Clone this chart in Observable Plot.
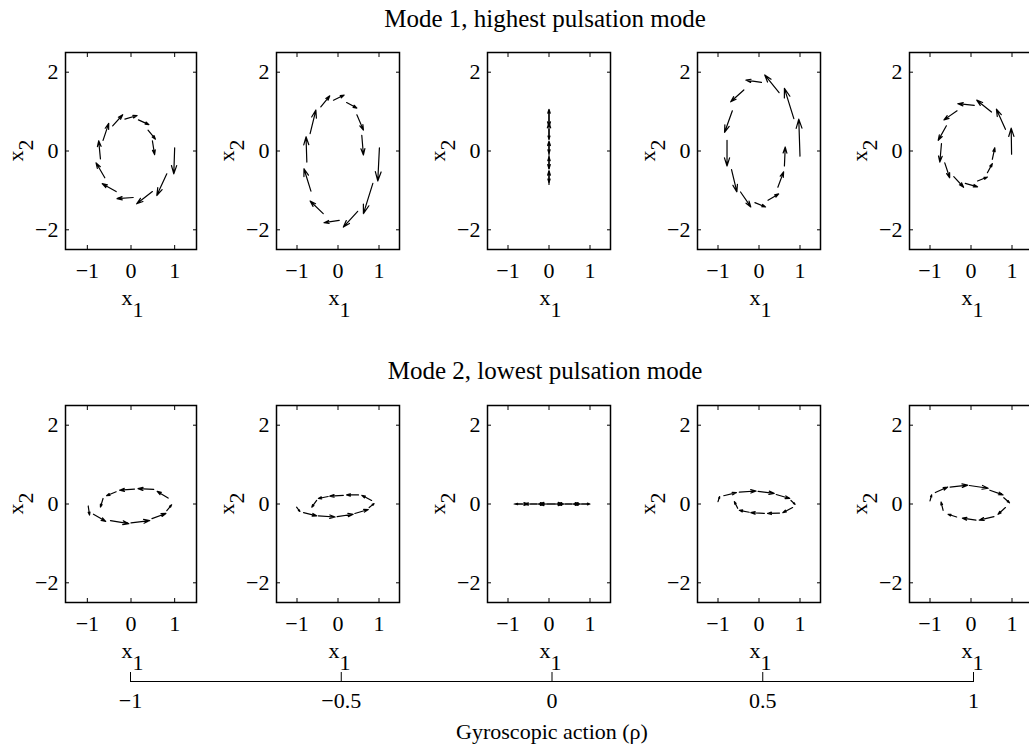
<!DOCTYPE html>
<html><head><meta charset="utf-8">
<script src="https://cdn.jsdelivr.net/npm/d3@7"></script>
<script src="https://cdn.jsdelivr.net/npm/@observablehq/plot@0.6"></script>
<style>
html,body{margin:0;padding:0;background:#fff;overflow:hidden;}
#fig{position:relative;width:1029px;height:751px;overflow:hidden;font-family:"Liberation Serif","Times New Roman",serif;color:#000;background:#fff;}
#fig > svg{position:absolute;overflow:visible;}
.ttl{position:absolute;font-size:25px;line-height:25px;white-space:nowrap;transform:translateX(-50%);}
</style></head><body><div id="fig"></div>
<script>
// ---- data: arrows as [x1 (tail), y1 (tail), x2 (head), y2 (head)] in state coordinates ----
const rhoValues = [-1, -0.5, 0, 0.5, 1];
const rhoTicks = [-1, -0.5, 0, 0.5, 1];
const xTicks = [-1, 0, 1];
const yTicks = [-2, 0, 2];
const titleMode1 = "Mode 1, highest pulsation mode";
const titleMode2 = "Mode 2, lowest pulsation mode";
const rhoLabel = "Gyroscopic action (ρ)";

const mode1_rhoNeg1 = [
  [1.00, 0.08, 0.98, -0.58], [0.82, -0.58, 0.59, -1.13], [0.49, -1.03, 0.13, -1.34],
  [0.05, -1.18, -0.32, -1.21], [-0.34, -1.03, -0.66, -0.83], [-0.60, -0.68, -0.80, -0.30],
  [-0.70, -0.20, -0.74, 0.26], [-0.64, 0.27, -0.51, 0.70], [-0.42, 0.64, -0.19, 0.92],
  [-0.14, 0.81, 0.14, 0.90], [0.17, 0.79, 0.41, 0.67], [0.39, 0.53, 0.56, 0.30],
  [0.49, 0.26, 0.54, -0.09]
];
const mode1_rhoNeg05 = [
  [1.01, 0.08, 0.97, -0.76], [0.85, -0.82, 0.62, -1.59], [0.48, -1.53, 0.13, -1.93],
  [0.03, -1.76, -0.34, -1.82], [-0.36, -1.59, -0.68, -1.27], [-0.66, -1.02, -0.83, -0.45],
  [-0.76, -0.28, -0.78, 0.36], [-0.68, 0.44, -0.54, 1.04], [-0.42, 1.12, -0.20, 1.40],
  [-0.11, 1.29, 0.15, 1.42], [0.21, 1.23, 0.46, 1.09], [0.46, 0.92, 0.62, 0.53],
  [0.58, 0.40, 0.62, -0.10]
];
const mode1_rho0 = [
  [0, -0.85, 0, -0.50], [0, -0.45, 0, -0.15], [0, -0.10, 0, 0.25], [0, 0.30, 0, 0.72],
  [0, 0.75, 0, 1.06], [0, 1.00, 0, 0.62], [0, 0.55, 0, 0.30], [0, 0.22, 0, -0.06],
  [0, -0.12, 0, -0.45], [0, -0.52, 0, -0.80]
];
const mode1_rhoPos05 = [
  [1.00, -0.13, 0.97, 0.81], [0.85, 0.82, 0.62, 1.59], [0.49, 1.48, 0.14, 1.93],
  [0.06, 1.74, -0.32, 1.80], [-0.37, 1.55, -0.69, 1.25], [-0.65, 1.02, -0.84, 0.47],
  [-0.78, 0.27, -0.78, -0.38], [-0.67, -0.47, -0.54, -1.04], [-0.45, -1.04, -0.20, -1.42],
  [-0.10, -1.31, 0.16, -1.42], [0.22, -1.25, 0.48, -1.09], [0.46, -0.92, 0.60, -0.53],
  [0.62, -0.38, 0.64, 0.10]
];
const mode1_rhoPos1 = [
  [0.99, -0.08, 0.98, 0.58], [0.84, 0.55, 0.62, 1.06], [0.50, 0.99, 0.14, 1.29],
  [0.08, 1.16, -0.32, 1.20], [-0.34, 1.02, -0.66, 0.79], [-0.60, 0.64, -0.80, 0.27],
  [-0.72, 0.19, -0.76, -0.28], [-0.64, -0.30, -0.52, -0.68], [-0.42, -0.65, -0.18, -0.92],
  [-0.14, -0.82, 0.16, -0.91], [0.16, -0.76, 0.40, -0.66], [0.40, -0.55, 0.52, -0.32],
  [0.52, -0.21, 0.58, 0.08]
];
const mode2_rhoNeg1 = [
  [-0.98, -0.05, -0.95, -0.28], [-0.86, -0.26, -0.58, -0.44], [-0.47, -0.42, -0.05, -0.50],
  [0.00, -0.48, 0.43, -0.42], [0.48, -0.37, 0.80, -0.24], [0.82, -0.17, 0.93, -0.02],
  [0.85, 0.15, 0.60, 0.32], [0.52, 0.37, 0.16, 0.39], [0.08, 0.38, -0.26, 0.35],
  [-0.34, 0.31, -0.56, 0.21], [-0.64, 0.14, -0.70, -0.08]
];
const mode2_rhoNeg05 = [
  [-1.01, -0.08, -0.93, -0.19], [-0.84, -0.22, -0.52, -0.30], [-0.48, -0.30, -0.07, -0.33],
  [-0.02, -0.32, 0.37, -0.26], [0.41, -0.24, 0.74, -0.14], [0.76, -0.09, 0.88, 0.01],
  [0.82, 0.09, 0.58, 0.22], [0.50, 0.23, 0.21, 0.23], [0.13, 0.22, -0.20, 0.20],
  [-0.24, 0.19, -0.48, 0.14], [-0.52, 0.09, -0.64, -0.08]
];
const mode2_rho0 = [
  [-0.85, 0, -0.50, 0], [-0.45, 0, -0.10, 0], [-0.05, 0, 0.35, 0], [0.40, 0, 0.75, 0],
  [0.80, 0, 1.00, 0], [0.95, 0, 0.60, 0], [0.55, 0, 0.20, 0], [0.15, 0, -0.25, 0],
  [-0.30, 0, -0.60, 0], [-0.65, 0, -0.82, 0]
];
const mode2_rhoPos05 = [
  [-1.00, 0.06, -0.96, 0.19], [-0.86, 0.21, -0.55, 0.29], [-0.48, 0.30, -0.07, 0.33],
  [-0.02, 0.32, 0.37, 0.27], [0.42, 0.24, 0.75, 0.14], [0.78, 0.09, 0.88, -0.01],
  [0.82, -0.09, 0.58, -0.22], [0.50, -0.23, 0.21, -0.24], [0.13, -0.24, -0.20, -0.22],
  [-0.24, -0.21, -0.48, -0.16], [-0.52, -0.11, -0.60, 0.06]
];
const mode2_rhoPos1 = [
  [-1.00, 0.08, -0.96, 0.23], [-0.87, 0.29, -0.57, 0.43], [-0.51, 0.43, -0.08, 0.48],
  [-0.04, 0.47, 0.42, 0.40], [0.46, 0.35, 0.78, 0.23], [0.80, 0.16, 0.94, 0.03],
  [0.84, -0.09, 0.66, -0.26], [0.56, -0.32, 0.20, -0.41], [0.12, -0.41, -0.21, -0.36],
  [-0.35, -0.33, -0.56, -0.26], [-0.68, -0.16, -0.73, 0.05]
];

const mode1 = [mode1_rhoNeg1, mode1_rhoNeg05, mode1_rho0, mode1_rhoPos05, mode1_rhoPos1];
const mode2 = [mode2_rhoNeg1, mode2_rhoNeg05, mode2_rho0, mode2_rhoPos05, mode2_rhoPos1];

// ---- layout ----
const FONT = '"Liberation Serif","Times New Roman",serif';
const FS = 22;
const frameLefts = [65, 276, 487, 697, 909];
const frameWidths = [131, 123, 123, 123, 123];
const frameTops = [52, 405];
const frameH = 197;
const fig = document.getElementById("fig");
const fmt = d => (d < 0 ? "\u2212" : "") + String(Math.abs(d));

function addTitle(text, cx, cy) {
  const d = document.createElement("div");
  d.className = "ttl"; d.textContent = text;
  d.style.left = cx + "px"; d.style.top = (cy - 12) + "px";
  fig.appendChild(d);
}

function panel(data, col, row) {
  const fw = frameWidths[col];
  const mL = 62, mR = 6, mT = 6, mB = 78;
  const svg = Plot.plot({
    width: mL + fw + mR, height: mT + frameH + mB,
    marginLeft: mL, marginRight: mR, marginTop: mT, marginBottom: mB,
    x: {domain: [-1.5, 1.5]}, y: {domain: [-2.5, 2.5]},
    style: {fontFamily: FONT, fontSize: FS + "px", color: "#000", background: "transparent", overflow: "visible"},
    marks: [
      Plot.axisX(xTicks, {anchor: "bottom", tickSize: -4, fill: "none", label: null}),
      Plot.axisX(xTicks, {anchor: "top", tickSize: -4, fill: "none", label: null}),
      Plot.axisY(yTicks, {anchor: "left", tickSize: -4, fill: "none", label: null}),
      Plot.axisY(yTicks, {anchor: "right", tickSize: -4, fill: "none", label: null}),
      Plot.axisX(xTicks, {anchor: "bottom", tickSize: 0, tickPadding: 13, tickFormat: fmt, label: null}),
      Plot.axisY(yTicks, {anchor: "left", tickSize: 0, tickPadding: 7, tickFormat: fmt, label: null}),
      Plot.frame({stroke: "#000", strokeWidth: 1.5}),
      Plot.arrow(data, {x1: d => d[0], y1: d => d[1], x2: d => d[2], y2: d => d[3],
        stroke: "#000", strokeWidth: 1.2, headLength: 12, headAngle: 35})
    ]
  });
  svg.style.left = (frameLefts[col] - mL) + "px";
  svg.style.top = (frameTops[row] - mT) + "px";
  const s = d3.select(svg);
  // x1 label
  const xl = s.append("text").attr("x", mL + fw / 2 + 2).attr("y", mT + frameH + 56)
    .attr("text-anchor", "middle").attr("font-family", FONT).attr("font-size", FS).attr("fill", "#000");
  xl.append("tspan").text("x");
  xl.append("tspan").attr("dy", 12).text("1");
  // x2 label
  const yl = s.append("text").attr("transform", `translate(${mL - 42},${mT + frameH / 2}) rotate(-90)`)
    .attr("text-anchor", "middle").attr("font-family", FONT).attr("font-size", FS).attr("fill", "#000");
  yl.append("tspan").text("x");
  yl.append("tspan").attr("dy", 10).text("2");
  fig.appendChild(svg);
}

addTitle(titleMode1, 545, 18);
addTitle(titleMode2, 545, 370);
mode1.forEach((d, i) => panel(d, i, 0));
mode2.forEach((d, i) => panel(d, i, 1));

// gyroscopic action axis
const axisSvg = Plot.plot({
  width: 1029, height: 110, marginLeft: 130, marginRight: 56, marginTop: 10, marginBottom: 70,
  x: {domain: [rhoValues[0], rhoValues[rhoValues.length - 1]]},
  style: {fontFamily: FONT, fontSize: FS + "px", color: "#000", background: "transparent", overflow: "visible"},
  marks: [
    Plot.frame({anchor: "bottom", stroke: "#000", strokeWidth: 1}),
    Plot.axisX(rhoTicks, {anchor: "bottom", tickSize: -9, fill: "none", label: null}),
    Plot.axisX(rhoTicks, {anchor: "bottom", tickSize: 0, tickPadding: 11, tickFormat: fmt,
      label: rhoLabel, labelAnchor: "center", labelArrow: "none", labelOffset: 57})
  ]
});
axisSvg.style.left = "0px";
axisSvg.style.top = (681 - 40) + "px";
fig.appendChild(axisSvg);
</script></body></html>
